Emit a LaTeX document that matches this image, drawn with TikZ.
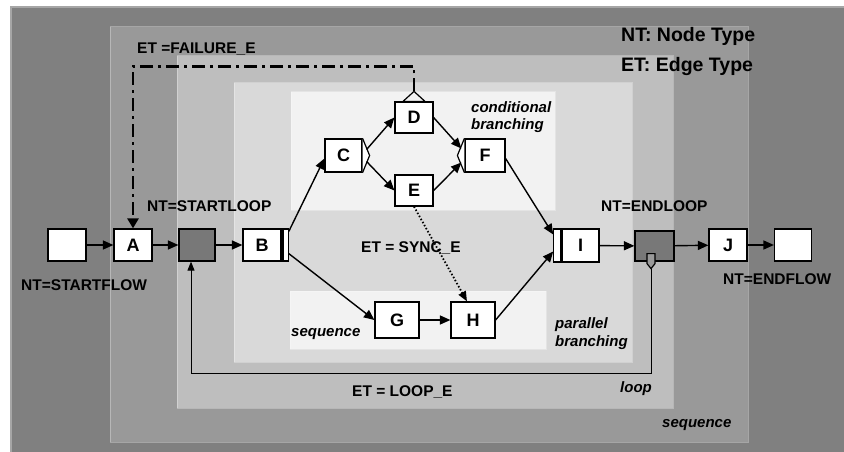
\documentclass[tikz,border=0pt]{standalone}
\usepackage{fontspec}
\setmainfont{Liberation Sans}
\usetikzlibrary{arrows.meta}

\definecolor{bgout}{gray}{0.50}
\definecolor{bgseq}{gray}{0.60}
\definecolor{bgloop}{gray}{0.745}
\definecolor{bgpar}{gray}{0.85}
\definecolor{bgin}{gray}{0.95}
\definecolor{nodedark}{gray}{0.47}

\begin{document}
\begin{tikzpicture}[x=1pt, y=-1pt,
    region/.style={draw=white, draw opacity=0.3, line width=1pt},
    box/.style={draw=black, line width=1.2pt, fill=white, minimum width=38pt,
        minimum height=32pt, inner sep=0pt, font=\fontsize{18}{20}\selectfont\bfseries},
    big/.style={minimum width=44pt, minimum height=36pt},
    dark/.style={box, fill=nodedark},
    bar/.style={draw=black, line width=1.2pt, fill=white, minimum width=6pt,
        minimum height=32pt, inner sep=0pt},
    marker/.style={fill=white, draw=black, line width=1.2pt, line join=miter},
    lbl/.style={anchor=base west, inner sep=0pt, font=\fontsize{15.5}{18}\selectfont\bfseries},
    legend/.style={anchor=base west, inner sep=0pt, font=\fontsize{19.5}{22}\selectfont\bfseries},
    note/.style={anchor=north west, inner sep=0pt, align=left,
        font=\fontsize{15}{17.5}\selectfont\bfseries\itshape},
    edge/.style={line width=1.4pt, -{Triangle[length=10.5pt, width=9pt]}},
    syncedge/.style={line width=1.8pt, dash pattern=on 1.5pt off 2pt,
        -{Triangle[length=10pt, width=8pt]}},
    loopedge/.style={line width=1pt, -{Triangle[length=9pt, width=7pt]}},
    failedge/.style={line width=2.5pt, dash pattern=on 13pt off 5pt on 3pt off 5pt,
        -{Triangle[length=10pt, width=11pt]}}
]
    \useasboundingbox (0,0) rectangle (844,452);
    \fill[white] (0,0) rectangle (844,452);

    % nested regions
    \filldraw[fill=bgout, draw=gray!70, line width=1.5pt] (11,7) rectangle (847,455);
    \filldraw[region, fill=bgseq] (110,27) rectangle (748,442);
    \filldraw[region, fill=bgloop] (177,56) rectangle (673,408);
    \filldraw[region, fill=bgpar] (234,83) rectangle (632,362);
    \filldraw[region, fill=bgin] (291,92) rectangle (555,210);
    \filldraw[region, fill=bgin] (290,291) rectangle (546,349);

    % nodes
    \node[box] (st) at (67,245) {};
    \node[box] (A) at (133,245) {A};
    \node[dark, minimum width=36pt] (sl) at (197,245) {};
    \node[box] (B) at (262,245) {B};
    \node[bar, anchor=west] (Bb) at (B.east) {};
    \node[box, minimum width=37pt, minimum height=33pt] (C) at (343.5,155.5) {C};
    \node[box, minimum height=31pt] (D) at (414,117.5) {D};
    \node[box, minimum height=31pt] (E) at (414,190.5) {E};
    \node[box, minimum width=40pt, minimum height=33pt] (F) at (485,155.5) {F};
    \node[box, big] (G) at (397,320) {G};
    \node[box, big] (H) at (473,320) {H};
    \node[box, minimum width=37pt, minimum height=33pt] (I) at (580.5,245.5) {I};
    \node[bar, anchor=east, minimum width=7pt, minimum height=33pt] (Ib) at (I.west) {};
    \node[dark, minimum width=39pt, minimum height=30pt] (el) at (654.5,246) {};
    \node[box] (J) at (728,245) {J};
    \node[box, minimum width=37pt] (en) at (793,245) {};

    % split / join markers
    \draw[black, line width=1.2pt] ([xshift=2pt]Bb.north west) -- ([xshift=2pt]Bb.south west);
    \filldraw[marker] (C.north east) -- ([xshift=7pt]C.east) -- (C.south east);
    \filldraw[marker] (F.north west) -- ([xshift=-7pt]F.west) -- (F.south west);
    \filldraw[marker, fill=bgin] ([xshift=-11pt]D.north) -- ([yshift=10pt]D.north)
        -- ([xshift=11pt]D.north) -- cycle;
    \coordinate (dt) at ([yshift=10pt]D.north);
    \coordinate (em) at ([xshift=-3.5pt]el.south);
    \filldraw[marker, fill=bgseq] ([xshift=-4pt,yshift=8pt]em) -- ([xshift=4pt,yshift=8pt]em)
        -- ([xshift=4pt,yshift=-2pt]em) -- ([yshift=-7pt]em)
        -- ([xshift=-4pt,yshift=-2pt]em) -- cycle;

    % edges
    \draw[edge] (st) -- (A);
    \draw[edge] (A) -- (sl);
    \draw[edge] (sl) -- (B);
    \draw[edge] ([yshift=-3pt]Bb.north east) -- ([yshift=-3pt]C.west);
    \draw[edge] ([yshift=8pt]Bb.south east) -- (G.west);
    \draw[edge] ([xshift=4pt,yshift=6pt]C.east) -- (D.west);
    \draw[edge] ([xshift=4pt,yshift=-6pt]C.east) -- (E.west);
    \draw[edge] (D.east) -- ([xshift=-3pt,yshift=7pt]F.west);
    \draw[edge] (E.east) -- ([xshift=-3pt,yshift=-7pt]F.west);
    \draw[edge] ([yshift=-3pt]F.east) -- ([yshift=11pt]Ib.west);
    \draw[edge] (G) -- (H);
    \draw[edge] (H.east) -- ([yshift=-6pt]Ib.west);
    \draw[syncedge] (E.south) -- ([xshift=-6pt]H.north);
    \draw[edge] (I) -- (el);
    \draw[edge] (el) -- (J);
    \draw[edge] (J) -- (en);
    \draw[loopedge] ([yshift=-7pt]em) -- ++(0,105) -| ([xshift=-6pt]sl.south);
    \draw[failedge] (dt) -- ++(0,-25) -| (A.north);

    % labels
    \node[legend] (nt) at (621,41.5) {NT: Node Type};
    \node[legend] (et) at (621,71.5) {ET: Edge Type};
    \node[lbl] (lfail) at (137,54) {ET =FAILURE\_E};
    \node[lbl] (lsl) at (147,211) {NT=STARTLOOP};
    \node[lbl] (lsf) at (21,290) {NT=STARTFLOW};
    \node[lbl] (lel) at (601,211) {NT=ENDLOOP};
    \node[lbl] (lef) at (723,284) {NT=ENDFLOW};
    \node[lbl] (lsync) at (361,252) {ET = SYNC\_E};
    \node[lbl] (lloop) at (352,396) {ET = LOOP\_E};
    \node[note] (ncond) at (471,101) {conditional\\branching};
    \node[note] (npar) at (555,317.5) {parallel\\branching};
    \node[note, anchor=base west] (nseq) at (291,336) {sequence};
    \node[note, anchor=base west] (nloop) at (620,392.5) {loop};
    \node[note, anchor=base west] (nout) at (662,427) {sequence};
\end{tikzpicture}
\end{document}
